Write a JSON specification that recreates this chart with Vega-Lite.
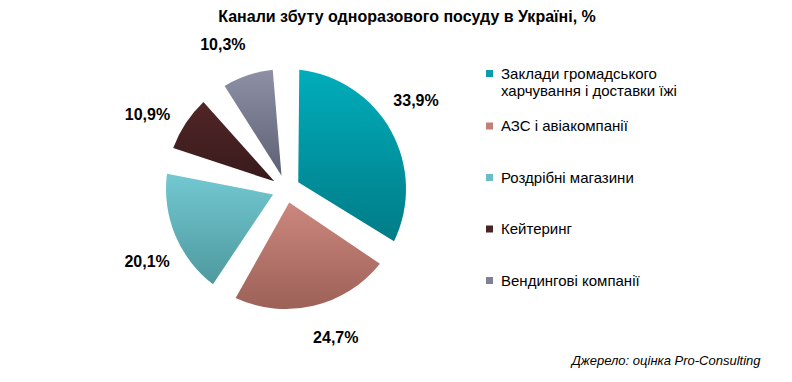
{
  "$schema": "https://vega.github.io/schema/vega-lite/v6.json",
  "autosize": "none",
  "width": 572,
  "height": 318,
  "padding": {"left": 0, "top": 30, "right": 220, "bottom": 34},
  "background": "white",
  "title": {
    "text": "Канали збуту одноразового посуду в Україні, %",
    "font": "Liberation Sans",
    "fontSize": 16,
    "fontWeight": "bold",
    "color": "#000000",
    "anchor": "middle",
    "dx": 121,
    "offset": 5
  },
  "data": {
    "values": [
      {"channel": "Заклади громадського харчування і доставки їжі", "value": 33.9},
      {"channel": "АЗС і авіакомпанії", "value": 24.7},
      {"channel": "Роздрібні магазини", "value": 20.1},
      {"channel": "Кейтеринг", "value": 10.9},
      {"channel": "Вендингові компанії", "value": 10.3}
    ]
  },
  "layer": [
    {
      "mark": {"type": "arc", "outerRadius": 120, "innerRadius": 14, "padAngle": 0.22},
      "encoding": {
        "theta": {"field": "value", "type": "quantitative", "stack": true},
        "order": {"field": "value", "type": "quantitative", "sort": "descending"},
        "color": {
          "field": "channel",
          "type": "nominal",
          "scale": {
            "domain": [
              "Заклади громадського харчування і доставки їжі",
              "АЗС і авіакомпанії",
              "Роздрібні магазини",
              "Кейтеринг",
              "Вендингові компанії"
            ],
            "range": ["#0D9BA8", "#C27F76", "#6BBEC7", "#4A2325", "#7E8196"]
          },
          "legend": {
            "orient": "none",
            "legendX": 482,
            "legendY": 19.5,
            "title": null,
            "padding": 0,
            "symbolType": "square",
            "symbolSize": 49,
            "symbolStrokeWidth": 0,
            "labelFont": "Liberation Sans",
            "labelFontSize": 15,
            "labelColor": "#000000",
            "labelOffset": 4,
            "labelLimit": 300,
            "clipHeight": 48,
            "rowPadding": 3.5,
            "labelExpr": "datum.label == 'Заклади громадського харчування і доставки їжі' ? ['Заклади громадського', 'харчування і доставки їжі'] : datum.label"
          },
          "condition": [
            {"test": "datum.channel == 'Заклади громадського харчування і доставки їжі'", "value": {"gradient": "linear", "x1": 0, "y1": 0, "x2": 0, "y2": 1, "stops": [{"offset": 0, "color": "#00ADBB"}, {"offset": 1, "color": "#007C87"}]}},
            {"test": "datum.channel == 'АЗС і авіакомпанії'", "value": {"gradient": "linear", "x1": 0, "y1": 0, "x2": 0, "y2": 1, "stops": [{"offset": 0, "color": "#CC877E"}, {"offset": 1, "color": "#9C6157"}]}},
            {"test": "datum.channel == 'Роздрібні магазини'", "value": {"gradient": "linear", "x1": 0, "y1": 0, "x2": 0, "y2": 1, "stops": [{"offset": 0, "color": "#73C8D1"}, {"offset": 1, "color": "#4E999F"}]}},
            {"test": "datum.channel == 'Кейтеринг'", "value": {"gradient": "linear", "x1": 0, "y1": 0, "x2": 0, "y2": 1, "stops": [{"offset": 0, "color": "#512628"}, {"offset": 1, "color": "#381A1B"}]}},
            {"test": "datum.channel == 'Вендингові компанії'", "value": {"gradient": "linear", "x1": 0, "y1": 0, "x2": 0, "y2": 1, "stops": [{"offset": 0, "color": "#8E91A6"}, {"offset": 1, "color": "#5E6174"}]}}
          ]
        }
      }
    },
    {
      "mark": {
        "type": "text",
        "radius": 157,
        "thetaOffset": -0.09,
        "font": "Liberation Sans",
        "fontSize": 16,
        "fontWeight": "bold",
        "color": "#000000",
        "align": "center",
        "baseline": "middle"
      },
      "encoding": {
        "theta": {"field": "value", "type": "quantitative", "stack": true},
        "order": {"field": "value", "type": "quantitative", "sort": "descending"},
        "text": {"field": "value", "type": "quantitative", "format": "$.1f"}
      }
    },
    {
      "mark": {"type": "rule", "opacity": 0},
      "encoding": {
        "x": {
          "field": "value",
          "type": "quantitative",
          "axis": {
            "title": "Джерело: оцінка Pro-Consulting",
            "titleFont": "Liberation Sans",
            "titleFontSize": 13,
            "titleFontStyle": "italic",
            "titleFontWeight": "normal",
            "titleColor": "#000000",
            "titleX": 760,
            "titleY": 12,
            "titleAlign": "right",
            "titleBaseline": "middle",
            "domain": false,
            "ticks": false,
            "labels": false,
            "grid": false
          }
        }
      }
    }
  ],
  "config": {
    "view": {"stroke": null},
    "locale": {"number": {"decimal": ",", "thousands": " ", "grouping": [3], "currency": ["", "%"]}}
  }
}
